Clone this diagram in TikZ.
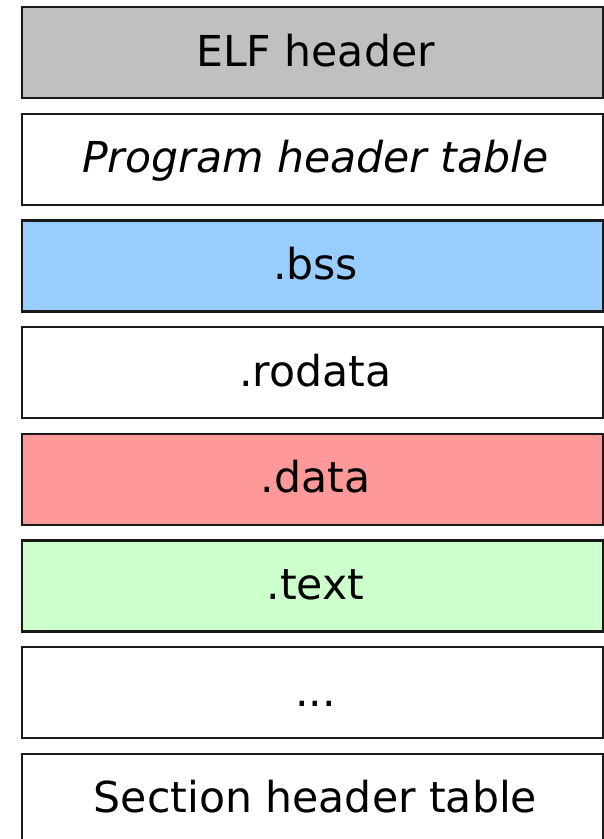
\documentclass[tikz,border=0pt]{standalone}
\usepackage{fontspec}
\setmainfont{DejaVu Sans}
\definecolor{hdrgray}{RGB}{192,192,192}
\definecolor{bssblue}{RGB}{153,204,255}
\definecolor{datared}{RGB}{255,153,153}
\definecolor{textgreen}{RGB}{204,255,204}
\tikzset{
  segment/.style={draw=black!90, line width=2.4pt, fill=#1},
  segment/.default=white,
  label/.style={font=\fontsize{42.6}{50}\selectfont, inner sep=0pt, anchor=center}
}
\begin{document}
\begin{tikzpicture}[x=1pt,y=-1pt]
  \useasboundingbox (0,0) rectangle (604,839);
  % sections of the ELF file, top to bottom
  \foreach \i/\col/\txt in {
      0/hdrgray/{ELF header},
      1/white/{\itshape Program header table},
      2/bssblue/{.bss},
      3/white/{.rodata},
      4/datared/{.data},
      5/textgreen/{.text},
      6/white/{...},
      7/white/{Section header table}} {
    \pgfmathsetmacro{\top}{7+106.7*\i}
    \pgfmathsetmacro{\bot}{\top+91}
    \draw[segment=\col] (22,\top) rectangle (603,\bot);
    \node[label] (s\i) at (315.5,\top+49) {\strut\txt};
  }
\end{tikzpicture}
\end{document}
